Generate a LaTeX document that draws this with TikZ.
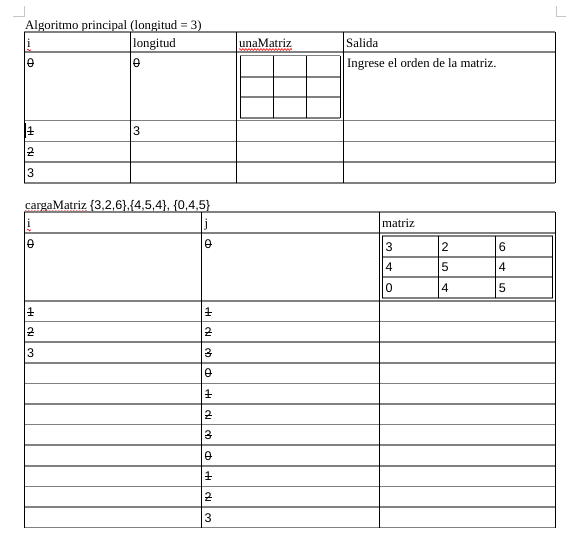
\documentclass[tikz,border=0pt]{standalone}
\usepackage{fontspec}
\setmainfont{Liberation Serif}
\newfontfamily\cifras{Liberation Sans}
\usetikzlibrary{positioning,decorations.pathmorphing}

\newsavebox\cajatach
\newcommand{\tachado}[1]{\sbox\cajatach{#1}\rlap{\usebox\cajatach}\rule[0.3em]{\wd\cajatach}{0.6pt}}

\begin{document}
\begin{tikzpicture}[x=1pt,y=-1pt,
  every node/.style={inner sep=0pt,anchor=base west,font=\fontsize{12.8}{15}\selectfont},
  num/.style={font=\fontsize{12.6}{15}\selectfont\cifras},
  hlinea/.style={draw=gray,line width=1.7pt},
  vlinea/.style={draw=black,line width=0.9pt},
  ondas/.style={draw=red,line width=0.6pt,decorate,decoration={snake,amplitude=0.9pt,segment length=3pt}},
  marca/.style={draw=gray!45,line width=0.8pt}]
\useasboundingbox (0,0) rectangle (568,549);
\draw[marca] (13,16) -- (24,16) -- (24,6);
\draw[marca] (556,6) -- (556,16) -- (566,16);

% Algoritmo principal
\node (tit1) at (25,29) {Algoritmo principal (longitud = 3)};
\foreach \y in {32,52,120.5,141.5,162,183} \draw[hlinea] (24,\y) -- (555,\y);
\foreach \x in {24,130,236,343,555} \draw[vlinea] (\x,32) -- (\x,183);
\foreach \y in {55.5,76.7,97,118} \draw[hlinea] (240,\y) -- (340,\y);
\foreach \x in {240,273.3,306.7,340} \draw[vlinea] (\x,55.5) -- (\x,118);
\node (hi) at (27,47) {i};
\node (hlong) at (133,47) {longitud};
\node (huna) at (239,47) {unaMatriz};
\node (hsal) at (346,47) {Salida};
\draw[ondas] ([yshift=-3pt]hi.base west) -- ([yshift=-3pt]hi.base east);
\draw[ondas] ([yshift=-2.5pt]huna.base west) -- ([yshift=-2.5pt]huna.base east);
\node[num] (i0) at (27,67) {\tachado{0}};
\node[num] (i1) at (27,135.5) {\tachado{1}};
\node[num] (i2) at (27,156.5) {\tachado{2}};
\node[num] (i3) at (27,177) {3};
\node[num] (long0) at (133,67) {\tachado{0}};
\node[num] (long3) at (133,135.5) {3};
\node (msj) at (347,67) {Ingrese el orden de la matriz.};
\draw[line width=0.6pt] (25,123) -- (25,138);

% cargaMatriz
\node (carga) at (25,209) {cargaMatriz};
\node[num,right=3pt of carga.base east,anchor=base west] (datos) {\{3,2,6\},\{4,5,4\}, \{0,4,5\}};
\draw[ondas] ([yshift=-2.5pt]carga.base west) -- ([yshift=-2.5pt]carga.base east);
\draw[hlinea] (24,212) -- (555,212);
\draw[hlinea] (24,233) -- (555,233);
\foreach \k in {0,...,11} \draw[hlinea] (24,{301+20.6*\k}) -- (555,{301+20.6*\k});
\foreach \x in {24,201.5,379,555} \draw[vlinea] (\x,212) -- (\x,527.6);
\node (ci) at (27,227) {i};
\node (cj) at (204.5,227) {j};
\node (cmat) at (382,227) {matriz};
\draw[ondas] ([yshift=-3pt]ci.base west) -- ([yshift=-3pt]ci.base east);
\node[num] (ci0) at (27,248) {\tachado{0}};
\node[num] (ci1) at (27,316) {\tachado{1}};
\node[num] (ci2) at (27,336.6) {\tachado{2}};
\node[num] (ci3) at (27,357.2) {3};
\node[num] (cj0) at (204.5,248) {\tachado{0}};
\foreach \v [count=\k from 0] in {1,2,3,0,1,2,3,0,1,2}
  \node[num] (cj\k) at (204.5,{316+20.6*\k}) {\tachado{\v}};
\node[num] (cjfin) at (204.5,522) {3};
\foreach \y in {236,256.7,277.3,297.7} \draw[hlinea] (382.3,\y) -- (552.7,\y);
\foreach \x in {382.3,438.3,495.7,552.7} \draw[vlinea] (\x,236) -- (\x,297.7);
\foreach \f/\a/\b/\c in {0/3/2/6,1/4/5/4,2/0/4/5} {
  \node[num] (m\f a) at (385.3,{251+20.6*\f}) {\a};
  \node[num] (m\f b) at (441.3,{251+20.6*\f}) {\b};
  \node[num] (m\f c) at (498.7,{251+20.6*\f}) {\c};
}
\end{tikzpicture}
\end{document}
